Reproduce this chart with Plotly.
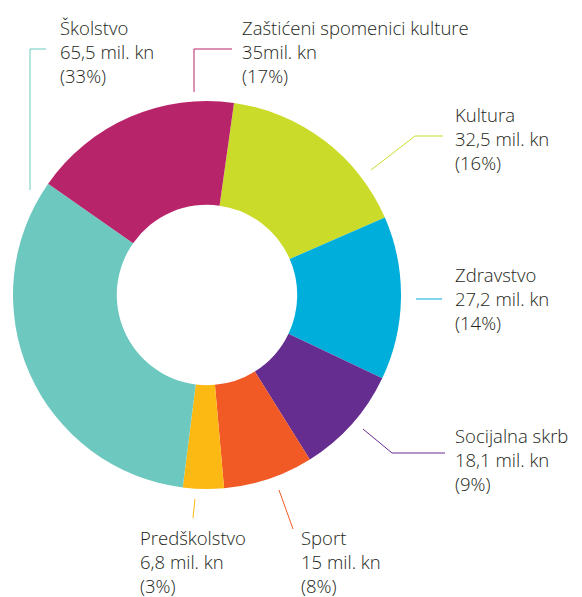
import plotly.graph_objects as go

W, H = 582, 597

categories = ["Kultura", "Zdravstvo", "Socijalna skrb", "Sport", "Predškolstvo", "Školstvo", "Zaštićeni spomenici kulture"]
values = [32.5, 27.2, 18.1, 15, 6.8, 65.5, 35]
value_labels = ["32,5 mil. kn", "27,2 mil. kn", "18,1 mil. kn", "15 mil. kn", "6,8 mil. kn", "65,5 mil. kn", "35mil. kn"]
pct_labels = ["(16%)", "(14%)", "(9%)", "(8%)", "(3%)", "(33%)", "(17%)"]
colors = ["#CBDB2A", "#00AEDB", "#662D91", "#F15A24", "#FDB913", "#6DC8BF", "#B8246A"]

def px(x, y):
    return x / W, 1 - y / H

cx, cy, r = 207, 295, 194
x0, y0 = px(cx - r, cy + r)
x1, y1 = px(cx + r, cy - r)

fig = go.Figure(go.Pie(
    labels=categories, values=values, sort=False, direction="clockwise",
    rotation=8, hole=0.465, marker=dict(colors=colors, line=dict(width=0)),
    textinfo="none", hoverinfo="label+value", showlegend=False,
    domain=dict(x=[x0, x1], y=[y0, y1]),
))

# label positions (text top-left) and leader line paths, in pixels
label_pos = [(453, 100), (453, 260), (453, 421), (299, 523), (138, 523), (58, 13), (240, 13)]
leaders = [
    [(371, 170), (415, 136), (443, 136)],
    [(416, 299), (442, 299)],
    [(363, 429), (392, 453), (445, 453)],
    [(279, 490), (293, 529)],
    [(195, 499), (193, 518)],
    [(30, 190), (30, 49), (46, 49)],
    [(194, 92), (194, 49), (232, 49)],
]

font_family = "Open Sans"
for i, cat in enumerate(categories):
    lx, ly = px(*label_pos[i])
    fig.add_annotation(
        x=lx, y=ly, xref="paper", yref="paper", xanchor="left", yanchor="top",
        align="left", showarrow=False,
        text=f"{cat}<br>{value_labels[i]}<br>{pct_labels[i]}",
        font=dict(family=font_family, size=18.5, color="#231F20", weight=300),
    )
    pts = leaders[i]
    path = "M " + " L ".join(f"{px(x, y)[0]},{px(x, y)[1]}" for x, y in pts)
    fig.add_shape(type="path", path=path, xref="paper", yref="paper",
                  line=dict(color=colors[i], width=1))

fig.update_layout(
    width=W, height=H, margin=dict(l=0, r=0, t=0, b=0),
    paper_bgcolor="white", plot_bgcolor="white",
)
fig.write_html("out.html", config={"displayModeBar": False},
               post_script="document.body.style.margin='0';document.body.style.overflow='hidden';")
